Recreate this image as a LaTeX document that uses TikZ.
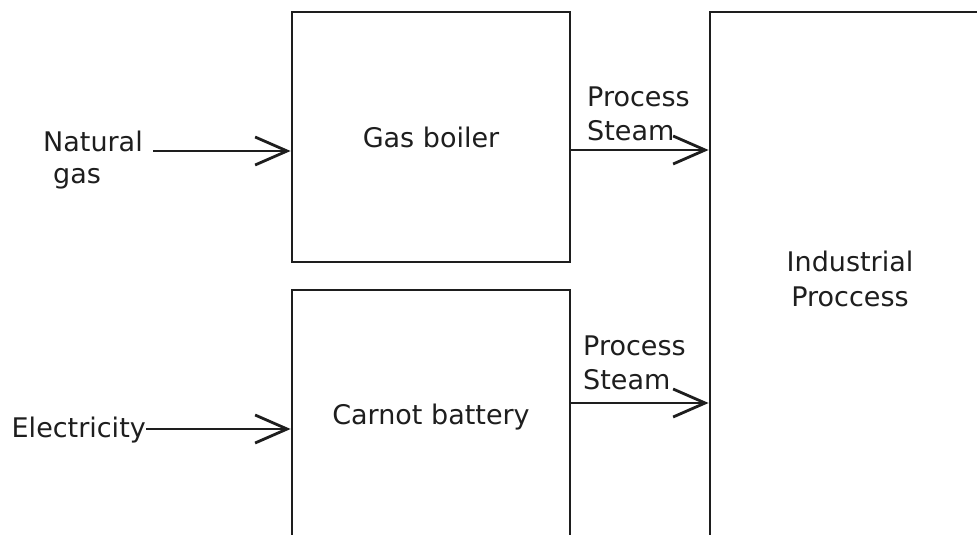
\documentclass[tikz,border=0pt]{standalone}
\usepackage{fontspec}
\setmainfont{DejaVu Sans}
\usetikzlibrary{arrows.meta}
\definecolor{ink}{HTML}{1E1E1E}
\begin{document}
\begin{tikzpicture}[x=1pt,y=-1pt,
  txt/.style={font=\fontsize{27}{34}\selectfont, text=ink, inner sep=0pt},
  blk/.style={draw=ink, line width=2.8pt, fill=none, inner sep=0pt, font=\fontsize{27}{35}\selectfont, text=ink, align=center},
  flow/.style={draw=ink, line width=2.8pt, -{Straight Barb[length=32pt,width=28pt,line width=2.8pt]}}]
\useasboundingbox (0,0) rectangle (977,535);
\clip (0,0) rectangle (977,535);
\fill[white] (0,0) rectangle (977,535);
\node[blk, minimum width=278pt, minimum height=250pt] (boiler) at (431,137) {Gas boiler};
\node[blk, minimum width=278pt, minimum height=255pt] (carnot) at (431,417.5) {Carnot battery};
\node[blk, minimum width=280pt, minimum height=533pt] (ind) at (850,278.5) {Industrial\\Proccess};
\node[txt, align=left, anchor=west] (ng) at (43,160) {Natural\\[-2pt]\hspace*{10pt}gas};
\node[txt, anchor=east] (el) at (146,430) {Electricity};
\node[txt, align=left, anchor=west] (ps1) at (587,114) {Process\\Steam};
\node[txt, align=left, anchor=west] (ps2) at (583,363) {Process\\Steam};
\coordinate (ngs) at (153,151);
\coordinate (ps1s) at (570,150);
\coordinate (ps2s) at (570,403);
\draw[flow] (ngs) -- (ngs -| boiler.west);
\draw[flow] (el.east |- 0,429) -- (carnot.west |- 0,429);
\draw[flow] (ps1s) -- (ps1s -| ind.west);
\draw[flow] (ps2s) -- (ps2s -| ind.west);
\end{tikzpicture}
\end{document}
